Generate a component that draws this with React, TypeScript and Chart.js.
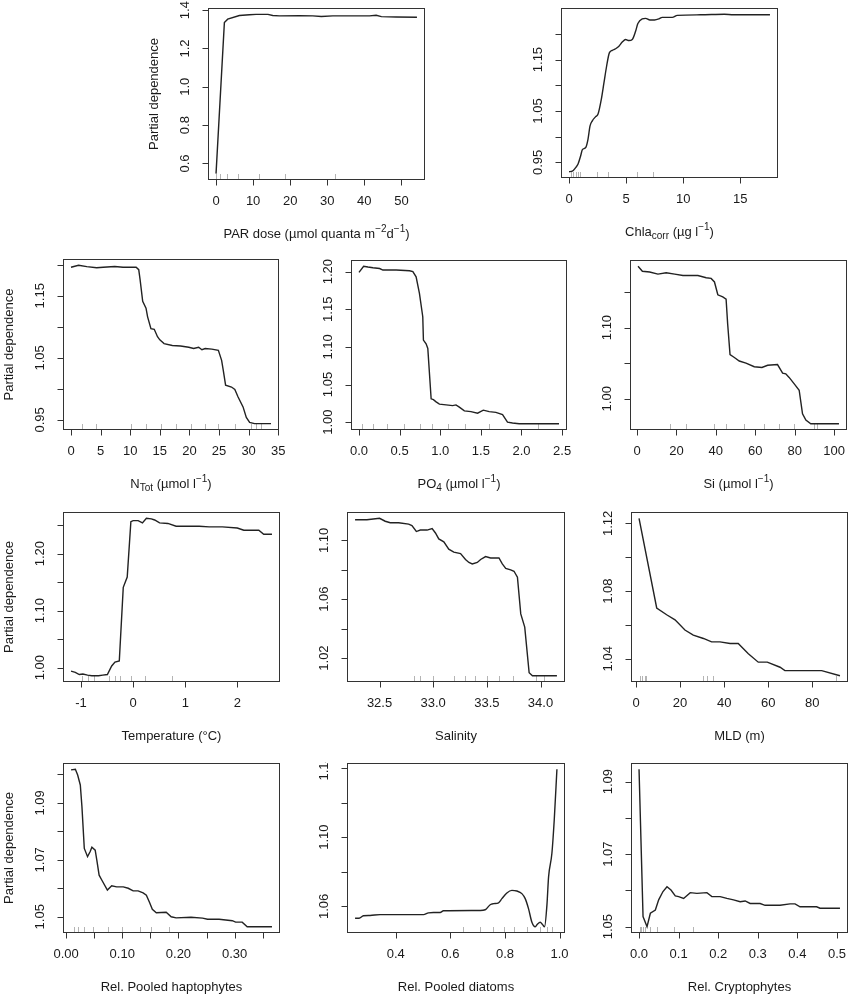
import { useEffect, useRef } from 'react';
import { Chart, registerables } from 'chart.js';
import type { Plugin } from 'chart.js';

Chart.register(...registerables);

// PAR dose
const parX = [0, 2.25, 3.15, 6.3, 9.0, 10.8, 14.0, 15.3, 17.1, 22.5, 26.1, 28.4, 31.5, 37.8, 41.4, 43.2, 44.6, 48.6, 54.2];
const parY = [0.547, 1.335, 1.353, 1.372, 1.376, 1.378, 1.378, 1.372, 1.37, 1.371, 1.37, 1.367, 1.37, 1.37, 1.37, 1.373, 1.366, 1.364, 1.363];
const parRug = [0, 1.2, 2.9, 5.9, 11.7, 18.6, 32.0];
const parXTicks = [0, 10, 20, 30, 40, 50];
const parXLabels = ['0', '10', '20', '30', '40', '50'];
const parYTicks = [0.6, 0.8, 1.0, 1.2, 1.4];
const parYLabels = ['0.6', '0.8', '1.0', '1.2', '1.4'];

// Chla corr
const chlaX = [0.0, 0.29, 0.58, 0.79, 1.02, 1.17, 1.46, 1.66, 1.84, 2.04, 2.33, 2.54, 2.83, 3.06, 3.29, 3.53, 3.79, 4.08, 4.37, 4.66, 4.96, 5.25, 5.54, 5.83, 6.03, 6.41, 6.71, 7.08, 7.49, 7.87, 8.16, 9.04, 9.48, 11.5, 13.6, 14.4, 17.6];
const chlaY = [0.932, 0.933, 0.94, 0.947, 0.963, 0.975, 0.979, 0.995, 1.021, 1.031, 1.039, 1.044, 1.073, 1.105, 1.137, 1.163, 1.168, 1.171, 1.176, 1.184, 1.189, 1.187, 1.189, 1.205, 1.22, 1.229, 1.23, 1.227, 1.227, 1.229, 1.232, 1.232, 1.236, 1.237, 1.238, 1.237, 1.237];
const chlaRug = [0.15, 0.38, 0.61, 0.82, 0.96, 2.48, 3.44, 5.98, 7.38];
const chlaXTicks = [0, 5, 10, 15];
const chlaXLabels = ['0', '5', '10', '15'];
const chlaYTicks = [0.95, 1.0, 1.05, 1.1, 1.15, 1.2];
const chlaYLabels = ['0.95', '', '1.05', '', '1.15', ''];

// N Tot
const ntX = [0.0, 1.28, 2.67, 4.33, 5.44, 7.39, 8.78, 11.0, 11.44, 11.67, 12.11, 12.67, 12.94, 13.5, 14.06, 14.61, 15.0, 15.72, 17.11, 18.5, 19.89, 20.72, 21.56, 22.11, 22.67, 23.78, 24.89, 25.44, 25.72, 26.11, 27.11, 27.67, 28.22, 29.06, 29.61, 30.17, 31.0, 33.78];
const ntY = [1.196, 1.199, 1.197, 1.195, 1.196, 1.197, 1.196, 1.196, 1.192, 1.176, 1.141, 1.13, 1.116, 1.097, 1.096, 1.084, 1.079, 1.073, 1.07, 1.069, 1.067, 1.065, 1.067, 1.063, 1.065, 1.064, 1.062, 1.046, 1.03, 1.006, 1.003, 0.999, 0.987, 0.971, 0.954, 0.946, 0.944, 0.944];
const ntRug = [1.8, 4.3, 10.2, 12.7, 15.2, 17.7, 20.2, 22.7, 24.9, 27.7, 30.4, 31.3, 32.1];
const ntXTicks = [0, 5, 10, 15, 20, 25, 30, 35];
const ntXLabels = ['0', '5', '10', '15', '20', '25', '30', '35'];
const ntYTicks = [0.95, 1.0, 1.05, 1.1, 1.15, 1.2];
const ntYLabels = ['0.95', '', '1.05', '', '1.15', ''];

// PO4
const poX = [0.0, 0.057, 0.11, 0.172, 0.254, 0.294, 0.376, 0.458, 0.622, 0.663, 0.703, 0.744, 0.785, 0.793, 0.826, 0.847, 0.888, 0.916, 0.949, 0.99, 1.072, 1.153, 1.194, 1.235, 1.297, 1.378, 1.46, 1.53, 1.603, 1.685, 1.767, 1.828, 1.89, 1.971, 2.135, 2.462];
const poY = [1.199, 1.207, 1.206, 1.205, 1.204, 1.202, 1.202, 1.202, 1.201, 1.2, 1.193, 1.171, 1.14, 1.109, 1.104, 1.098, 1.031, 1.03, 1.027, 1.024, 1.023, 1.022, 1.023, 1.02, 1.015, 1.014, 1.012, 1.016, 1.014, 1.013, 1.01, 1.0, 0.999, 0.998, 0.998, 0.998];
const poRug = [0.04, 0.17, 0.35, 0.55, 0.75, 0.9, 1.1, 1.3, 1.6, 2.2];
const poXTicks = [0, 0.5, 1.0, 1.5, 2.0, 2.5];
const poXLabels = ['0.0', '0.5', '1.0', '1.5', '2.0', '2.5'];
const poYTicks = [1.0, 1.05, 1.1, 1.15, 1.2];
const poYLabels = ['1.00', '1.05', '1.10', '1.15', '1.20'];

// Si
const siX = [0.5, 2.7, 6.4, 10.6, 14.8, 19.1, 23.3, 30.9, 35.1, 37.6, 39.3, 41.0, 43.5, 45.2, 46.0, 47.2, 49.4, 51.9, 55.3, 59.5, 63.4, 66.3, 71.3, 73.9, 75.5, 77.2, 79.8, 82.3, 84.0, 85.7, 88.2, 95.8, 102.5];
const siY = [1.186, 1.179, 1.178, 1.175, 1.177, 1.175, 1.173, 1.173, 1.17, 1.169, 1.164, 1.146, 1.143, 1.14, 1.105, 1.062, 1.058, 1.053, 1.05, 1.045, 1.044, 1.047, 1.048, 1.036, 1.035, 1.03, 1.021, 1.012, 0.979, 0.97, 0.965, 0.965, 0.965];
const siRug = [16.9, 24.6, 39.3, 45.2, 54.5, 64.6, 72.2, 79.8, 89.9, 91.6];
const siXTicks = [0, 20, 40, 60, 80, 100];
const siXLabels = ['0', '20', '40', '60', '80', '100'];
const siYTicks = [1.0, 1.05, 1.1, 1.15];
const siYLabels = ['1.00', '', '1.10', ''];

// Temperature
const tempX = [-1.192, -1.11, -1.034, -0.964, -0.875, -0.793, -0.666, -0.583, -0.495, -0.412, -0.349, -0.266, -0.19, -0.114, -0.044, 0.0, 0.095, 0.178, 0.254, 0.349, 0.412, 0.507, 0.666, 0.824, 1.268, 1.458, 1.712, 1.997, 2.124, 2.41, 2.505, 2.663];
const tempY = [0.994, 0.992, 0.988, 0.989, 0.987, 0.986, 0.986, 0.987, 0.988, 1.003, 1.01, 1.012, 1.141, 1.159, 1.256, 1.258, 1.258, 1.254, 1.262, 1.261, 1.259, 1.254, 1.253, 1.248, 1.248, 1.247, 1.247, 1.245, 1.241, 1.241, 1.234, 1.234];
const tempRug = [-0.98, -0.875, -0.748, -0.457, -0.349, -0.254, -0.044, 0.235, 0.742];
const tempXTicks = [-1, 0, 1, 2];
const tempXLabels = ['-1', '0', '1', '2'];
const tempYTicks = [1.0, 1.05, 1.1, 1.15, 1.2, 1.25];
const tempYLabels = ['1.00', '', '1.10', '', '1.20', ''];

// Salinity
const salX = [32.272, 32.382, 32.5, 32.553, 32.6, 32.678, 32.771, 32.802, 32.843, 32.88, 32.943, 32.99, 33.021, 33.052, 33.099, 33.145, 33.192, 33.255, 33.301, 33.333, 33.364, 33.411, 33.442, 33.488, 33.535, 33.613, 33.644, 33.676, 33.722, 33.753, 33.785, 33.816, 33.853, 33.894, 33.925, 34.153];
const salY = [1.114, 1.114, 1.115, 1.113, 1.112, 1.112, 1.111, 1.11, 1.106, 1.107, 1.107, 1.108, 1.105, 1.101, 1.099, 1.094, 1.092, 1.091, 1.087, 1.085, 1.084, 1.085, 1.087, 1.089, 1.088, 1.088, 1.084, 1.081, 1.08, 1.079, 1.075, 1.05, 1.041, 1.01, 1.008, 1.008];
const salRug = [32.818, 32.88, 33.0, 33.192, 33.301, 33.389, 33.5, 33.613, 33.744, 33.956, 34.034];
const salXTicks = [32.5, 33.0, 33.5, 34.0];
const salXLabels = ['32.5', '33.0', '33.5', '34.0'];
const salYTicks = [1.02, 1.04, 1.06, 1.08, 1.1];
const salYLabels = ['1.02', '', '1.06', '', '1.10'];

// MLD
const mldX = [1.36, 9.38, 13.9, 17.7, 22.2, 26.0, 30.6, 34.3, 38.1, 42.7, 46.4, 51.0, 55.5, 59.6, 65.4, 67.6, 84.3, 92.6];
const mldY = [1.123, 1.07, 1.066, 1.063, 1.057, 1.054, 1.052, 1.05, 1.05, 1.049, 1.049, 1.043, 1.038, 1.038, 1.035, 1.033, 1.033, 1.03];
const mldRug = [1.8, 2.6, 4.1, 4.5, 30.6, 32.1, 34.8, 90.8];
const mldXTicks = [0, 20, 40, 60, 80];
const mldXLabels = ['0', '20', '40', '60', '80'];
const mldYTicks = [1.04, 1.06, 1.08, 1.1, 1.12];
const mldYLabels = ['1.04', '', '1.08', '', '1.12'];

// Rel. Pooled haptophytes
const haptX = [0.0088, 0.0165, 0.0206, 0.0253, 0.0282, 0.0324, 0.0382, 0.0429, 0.0459, 0.0518, 0.0547, 0.0588, 0.0635, 0.0735, 0.0812, 0.09, 0.1018, 0.1106, 0.1194, 0.1282, 0.1371, 0.1429, 0.1488, 0.1535, 0.1606, 0.1782, 0.1871, 0.1959, 0.2224, 0.2429, 0.2518, 0.2724, 0.2959, 0.3018, 0.3135, 0.3224, 0.3665];
const haptY = [1.1016, 1.1018, 1.0998, 1.0963, 1.0887, 1.074, 1.0711, 1.0729, 1.0744, 1.0734, 1.0699, 1.0646, 1.0629, 1.0594, 1.0609, 1.0605, 1.0605, 1.06, 1.0591, 1.0591, 1.0584, 1.0576, 1.0549, 1.0526, 1.0514, 1.0516, 1.05, 1.0496, 1.0498, 1.0495, 1.0491, 1.0491, 1.0486, 1.0481, 1.0481, 1.0465, 1.0465];
const haptRug = [0.0135, 0.021, 0.031, 0.048, 0.074, 0.1, 0.131, 0.152, 0.183];
const haptXTicks = [0, 0.05, 0.1, 0.15, 0.2, 0.25, 0.3, 0.35];
const haptXLabels = ['0.00', '', '0.10', '', '0.20', '', '0.30', ''];
const haptYTicks = [1.05, 1.06, 1.07, 1.08, 1.09, 1.1];
const haptYLabels = ['1.05', '', '1.07', '', '1.09', ''];

// Rel. Pooled diatoms
const diatX = [0.2509, 0.2655, 0.2814, 0.3059, 0.3425, 0.5015, 0.5198, 0.5381, 0.5626, 0.5748, 0.7093, 0.7276, 0.746, 0.7582, 0.7765, 0.7888, 0.8071, 0.8254, 0.8438, 0.8621, 0.8743, 0.8866, 0.8988, 0.911, 0.9196, 0.9293, 0.9379, 0.9452, 0.9538, 0.9599, 0.9721, 0.9807, 0.9905];
const diatY = [1.0532, 1.0532, 1.0546, 1.0548, 1.0553, 1.0553, 1.0563, 1.0565, 1.0565, 1.0575, 1.0577, 1.0581, 1.061, 1.0616, 1.0621, 1.0645, 1.0678, 1.0693, 1.0689, 1.0674, 1.0645, 1.0586, 1.0509, 1.0483, 1.0499, 1.0509, 1.0495, 1.0483, 1.0606, 1.0771, 1.0907, 1.1101, 1.1392];
const diatRug = [0.648, 0.707, 0.758, 0.795, 0.834, 0.88, 0.929, 0.954, 0.972];
const diatXTicks = [0.4, 0.6, 0.8, 1.0];
const diatXLabels = ['0.4', '0.6', '0.8', '1.0'];
const diatYTicks = [1.06, 1.08, 1.1, 1.12, 1.14];
const diatYLabels = ['1.06', '', '1.10', '', '1.14'];

// Rel. Cryptophytes
const cryX = [0, 0.0101, 0.0202, 0.0286, 0.0412, 0.0496, 0.0605, 0.0706, 0.0807, 0.0916, 0.1, 0.1126, 0.1294, 0.1462, 0.1714, 0.184, 0.205, 0.2218, 0.2387, 0.2555, 0.2681, 0.2807, 0.3059, 0.3185, 0.3563, 0.3815, 0.3941, 0.4067, 0.4487, 0.4571, 0.5076];
const cryY = [1.0934, 1.0528, 1.05, 1.0537, 1.0546, 1.0574, 1.0597, 1.061, 1.0601, 1.0585, 1.0583, 1.0578, 1.0594, 1.0592, 1.0594, 1.0583, 1.0583, 1.0578, 1.0574, 1.0569, 1.0571, 1.0564, 1.0564, 1.0559, 1.0559, 1.0563, 1.0563, 1.0555, 1.0555, 1.0551, 1.0551];
const cryRug = [0.002, 0.006, 0.01, 0.016, 0.027, 0.045, 0.089, 0.136];
const cryXTicks = [0, 0.1, 0.2, 0.3, 0.4, 0.5];
const cryXLabels = ['0.0', '0.1', '0.2', '0.3', '0.4', '0.5'];
const cryYTicks = [1.05, 1.06, 1.07, 1.08, 1.09];
const cryYLabels = ['1.05', '', '1.07', '', '1.09'];

type Seg = { text: string; pos?: 'sub' | 'sup' };

interface PanelSpec {
  id: string;
  xs: number[];
  ys: number[];
  rug: number[];
  xTicks: number[];
  xLabels: string[];
  yTicks: number[];
  yLabels: string[];
  title: Seg[];
  box: [number, number, number, number]; // left, top, right, bottom (page px)
  yTitle?: boolean;
  padTop?: number;
  smooth?: boolean;
}

const INK = '#1a1a1a';
const FONT = '"Liberation Sans", Arial, Helvetica, sans-serif';
const PAD = { left: 80, right: 14, top: 16, bottom: 64 };

const panels: PanelSpec[] = [
  {
    id: 'par', xs: parX, ys: parY, rug: parRug,
    xTicks: parXTicks, xLabels: parXLabels, yTicks: parYTicks, yLabels: parYLabels,
    title: [{ text: 'PAR dose (µmol quanta m' }, { text: '−2', pos: 'sup' }, { text: 'd' }, { text: '−1', pos: 'sup' }, { text: ')' }],
    box: [208, 8, 425, 180], yTitle: true,
  },
  {
    id: 'chla', xs: chlaX, ys: chlaY, rug: chlaRug,
    xTicks: chlaXTicks, xLabels: chlaXLabels, yTicks: chlaYTicks, yLabels: chlaYLabels,
    title: [{ text: 'Chla' }, { text: 'corr', pos: 'sub' }, { text: ' (µg l' }, { text: '−1', pos: 'sup' }, { text: ')' }],
    box: [561, 8, 778, 178], smooth: true,
  },
  {
    id: 'ntot', xs: ntX, ys: ntY, rug: ntRug,
    xTicks: ntXTicks, xLabels: ntXLabels, yTicks: ntYTicks, yLabels: ntYLabels,
    title: [{ text: 'N' }, { text: 'Tot', pos: 'sub' }, { text: ' (µmol l' }, { text: '−1', pos: 'sup' }, { text: ')' }],
    box: [63, 259, 279, 430], yTitle: true,
  },
  {
    id: 'po4', xs: poX, ys: poY, rug: poRug,
    xTicks: poXTicks, xLabels: poXLabels, yTicks: poYTicks, yLabels: poYLabels,
    title: [{ text: 'PO' }, { text: '4', pos: 'sub' }, { text: ' (µmol l' }, { text: '−1', pos: 'sup' }, { text: ')' }],
    box: [351, 260, 567, 430],
  },
  {
    id: 'si', xs: siX, ys: siY, rug: siRug,
    xTicks: siXTicks, xLabels: siXLabels, yTicks: siYTicks, yLabels: siYLabels,
    title: [{ text: 'Si (µmol l' }, { text: '−1', pos: 'sup' }, { text: ')' }],
    box: [630, 260, 847, 430],
  },
  {
    id: 'temp', xs: tempX, ys: tempY, rug: tempRug,
    xTicks: tempXTicks, xLabels: tempXLabels, yTicks: tempYTicks, yLabels: tempYLabels,
    title: [{ text: 'Temperature (°C)' }],
    box: [63, 512, 280, 682], yTitle: true,
  },
  {
    id: 'sal', xs: salX, ys: salY, rug: salRug,
    xTicks: salXTicks, xLabels: salXLabels, yTicks: salYTicks, yLabels: salYLabels,
    title: [{ text: 'Salinity' }],
    box: [347, 512, 565, 682],
  },
  {
    id: 'mld', xs: mldX, ys: mldY, rug: mldRug,
    xTicks: mldXTicks, xLabels: mldXLabels, yTicks: mldYTicks, yLabels: mldYLabels,
    title: [{ text: 'MLD (m)' }],
    box: [631, 512, 848, 682],
  },
  {
    id: 'hapt', xs: haptX, ys: haptY, rug: haptRug,
    xTicks: haptXTicks, xLabels: haptXLabels, yTicks: haptYTicks, yLabels: haptYLabels,
    title: [{ text: 'Rel. Pooled haptophytes' }],
    box: [63, 763, 280, 933], yTitle: true,
  },
  {
    id: 'diat', xs: diatX, ys: diatY, rug: diatRug,
    xTicks: diatXTicks, xLabels: diatXLabels, yTicks: diatYTicks, yLabels: diatYLabels,
    title: [{ text: 'Rel. Pooled diatoms' }],
    box: [347, 763, 565, 933], padTop: 1, smooth: true,
  },
  {
    id: 'cry', xs: cryX, ys: cryY, rug: cryRug,
    xTicks: cryXTicks, xLabels: cryXLabels, yTicks: cryYTicks, yLabels: cryYLabels,
    title: [{ text: 'Rel. Cryptophytes' }],
    box: [631, 763, 848, 933],
  },
];

// R pads each axis range by 4% on both sides
const padRange = (values: number[]) => {
  const lo = Math.min(...values);
  const hi = Math.max(...values);
  const d = (hi - lo) * 0.04;
  return { min: lo - d, max: hi + d };
};

const drawTitle = (ctx: CanvasRenderingContext2D, segs: Seg[], cx: number, cy: number) => {
  const big = `13px ${FONT}`;
  const small = `10px ${FONT}`;
  const widths = segs.map((s) => {
    ctx.font = s.pos ? small : big;
    return ctx.measureText(s.text).width;
  });
  let x = cx - widths.reduce((a, b) => a + b, 0) / 2;
  ctx.textAlign = 'left';
  ctx.textBaseline = 'middle';
  segs.forEach((s, i) => {
    ctx.font = s.pos ? small : big;
    const dy = s.pos === 'sub' ? 4 : s.pos === 'sup' ? -5 : 0;
    ctx.fillText(s.text, x, cy + dy);
    x += widths[i];
  });
};

const rAxes = (spec: PanelSpec): Plugin<'line'> => ({
  id: 'rAxes',
  beforeDatasetsDraw(chart) {
    const { ctx, chartArea: a, scales } = chart;
    ctx.save();
    ctx.strokeStyle = '#b4b4b4';
    ctx.lineWidth = 1;
    ctx.beginPath();
    spec.rug.forEach((v) => {
      const px = Math.round(scales.x.getPixelForValue(v)) + 0.5;
      ctx.moveTo(px, a.bottom);
      ctx.lineTo(px, a.bottom - 6);
    });
    ctx.stroke();
    ctx.restore();
  },
  afterDraw(chart) {
    const { ctx, chartArea: a, scales } = chart;
    const L = Math.round(a.left) + 0.5;
    const R = Math.round(a.right) - 0.5;
    const T = Math.round(a.top) + 0.5;
    const B = Math.round(a.bottom) - 0.5;
    ctx.save();
    ctx.strokeStyle = '#333';
    ctx.fillStyle = INK;
    ctx.lineWidth = 1;
    ctx.strokeRect(L, T, R - L, B - T);

    ctx.beginPath();
    spec.xTicks.forEach((v) => {
      const px = Math.round(scales.x.getPixelForValue(v)) + 0.5;
      ctx.moveTo(px, B);
      ctx.lineTo(px, B + 6);
    });
    spec.yTicks.forEach((v) => {
      const py = Math.round(scales.y.getPixelForValue(v)) + 0.5;
      ctx.moveTo(L, py);
      ctx.lineTo(L - 6, py);
    });
    ctx.stroke();

    ctx.font = `13px ${FONT}`;
    ctx.textAlign = 'center';
    ctx.textBaseline = 'middle';
    spec.xTicks.forEach((v, i) => {
      if (spec.xLabels[i]) ctx.fillText(spec.xLabels[i], scales.x.getPixelForValue(v), B + 22);
    });
    spec.yTicks.forEach((v, i) => {
      if (!spec.yLabels[i]) return;
      ctx.save();
      ctx.translate(L - 23, scales.y.getPixelForValue(v));
      ctx.rotate(-Math.PI / 2);
      ctx.fillText(spec.yLabels[i], 0, 0);
      ctx.restore();
    });

    drawTitle(ctx, spec.title, (L + R) / 2, B + 55);

    if (spec.yTitle) {
      ctx.save();
      ctx.translate(L - 54, (T + B) / 2);
      ctx.rotate(-Math.PI / 2);
      ctx.font = `13px ${FONT}`;
      ctx.textAlign = 'center';
      ctx.textBaseline = 'middle';
      ctx.fillText('Partial dependence', 0, 0);
      ctx.restore();
    }
    ctx.restore();
  },
});

const Panel: React.FC<{ spec: PanelSpec }> = ({ spec }) => {
  const canvas = useRef<HTMLCanvasElement | null>(null);

  useEffect(() => {
    const node = canvas.current;
    if (!node) {
      return;
    }
    const chart = new Chart(node, {
      type: 'line',
      data: {
        datasets: [
          {
            data: spec.xs.map((x, i) => ({ x, y: spec.ys[i] })),
            borderColor: '#222',
            borderWidth: 1.4,
            pointRadius: 0,
            tension: 0,
            cubicInterpolationMode: spec.smooth ? 'monotone' : 'default',
            fill: false,
          },
        ],
      },
      options: {
        animation: false,
        responsive: true,
        maintainAspectRatio: false,
        events: [],
        layout: {
          padding: { left: PAD.left, right: PAD.right, top: spec.padTop ?? PAD.top, bottom: PAD.bottom },
        },
        scales: {
          x: { type: 'linear', display: false, ...padRange(spec.xs) },
          y: { type: 'linear', display: false, ...padRange(spec.ys) },
        },
        plugins: {
          legend: { display: false },
          tooltip: { enabled: false },
        },
      },
      plugins: [rAxes(spec)],
    });

    return () => {
      chart.destroy();
    };
  }, [spec]);

  const [l, t, r, b] = spec.box;
  const padTop = spec.padTop ?? PAD.top;
  return (
    <div
      style={{
        position: 'absolute',
        left: l - PAD.left,
        top: t - padTop,
        width: r - l + PAD.left + PAD.right,
        height: b - t + padTop + PAD.bottom,
      }}
    >
      <canvas ref={canvas} role="img" aria-label={`Partial dependence plot ${spec.id}`} />
    </div>
  );
};

export default function App() {
  return (
    <div
      style={{
        position: 'absolute',
        left: 0,
        top: 0,
        width: 851,
        height: 999,
        overflow: 'hidden',
        background: '#fff',
      }}
    >
      {panels.map((p) => (
        <Panel key={p.id} spec={p} />
      ))}
    </div>
  );
}
